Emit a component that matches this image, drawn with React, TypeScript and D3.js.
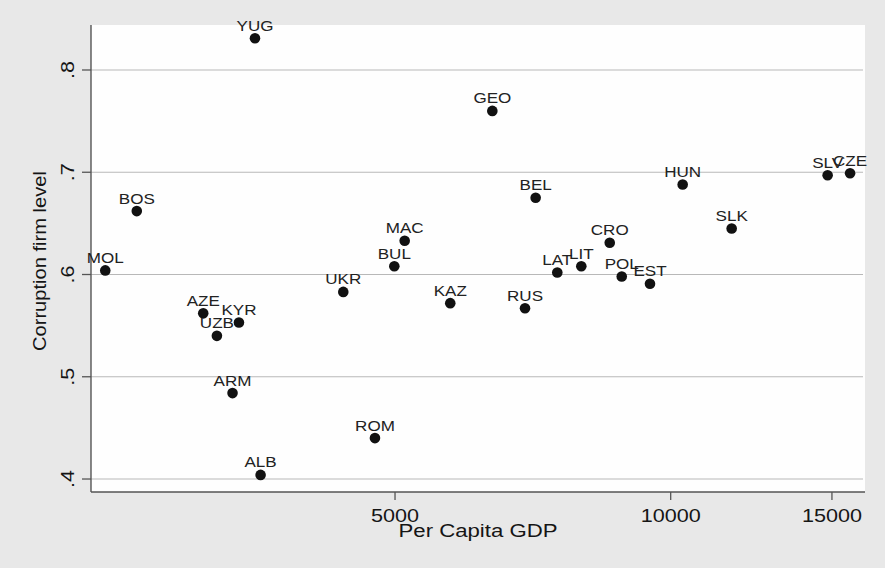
import React from "react";
import * as d3 from "d3";

const countries = ["YUG","GEO","BOS","BEL","HUN","SLV","CZE","SLK","MAC","CRO","MOL","BUL","LAT","LIT","POL","EST","UKR","KAZ","RUS","AZE","KYR","UZB","ARM","ROM","ALB"];
const gdp = [3516,6386,2612,7121,10306,14838,15700,11657,5123,8579,2413,4991,7519,7987,8842,9493,4390,5745,6933,3087,3377,3195,3323,4754,3566];
const corruption = [0.831,0.760,0.662,0.675,0.688,0.697,0.699,0.645,0.633,0.631,0.604,0.608,0.602,0.608,0.598,0.591,0.583,0.572,0.567,0.562,0.553,0.540,0.484,0.440,0.404];
const xTicks = [5000, 10000, 15000];
const yTicks = [0.4, 0.5, 0.6, 0.7, 0.8];
const yTickLabels = [".4", ".5", ".6", ".7", ".8"];

const W = 885, H = 568;
const left = 91, right = 865, top = 25, bottom = 492;
const FONT = "'Liberation Sans', Arial, Helvetica, sans-serif";

export default function App() {
  const x = d3.scaleLog().domain([2328, 16300]).range([left, right]);
  const y = d3.scaleLinear().domain([0.3873, 0.844]).range([bottom, top]);

  return (
    <svg width={W} height={H} style={{ position: "absolute", top: 0, left: 0 }} fontFamily={FONT}>
      <rect x={0} y={0} width={W} height={H} fill="#e8e8e8" />
      <rect x={left} y={top} width={right - left} height={bottom - top} fill="#fefefe" />
      {yTicks.map((t) => (
        <line key={"g" + t} x1={left} x2={right - 2} y1={y(t)} y2={y(t)} stroke="#b8b8b8" strokeWidth={1.2} />
      ))}
      <line x1={left} x2={left} y1={top} y2={bottom} stroke="#555" strokeWidth={1.4} />
      <line x1={left} x2={right} y1={bottom} y2={bottom} stroke="#555" strokeWidth={1.4} />
      {yTicks.map((t, i) => (
        <g key={"yt" + t}>
          <line x1={left - 9} x2={left} y1={y(t)} y2={y(t)} stroke="#555" strokeWidth={1.3} />
          <text
            transform={`translate(${left - 17},${y(t)}) rotate(-90) scale(1.2,1)`}
            textAnchor="middle"
            fontSize={18}
            fill="#151515"
          >
            {yTickLabels[i]}
          </text>
        </g>
      ))}
      {xTicks.map((t) => (
        <g key={"xt" + t}>
          <line x1={x(t)} x2={x(t)} y1={bottom} y2={bottom + 8} stroke="#555" strokeWidth={1.3} />
          <text
            transform={`translate(${x(t)},${bottom + 30}) scale(1.2,1)`}
            textAnchor="middle"
            fontSize={18}
            fill="#151515"
          >
            {t}
          </text>
        </g>
      ))}
      <text
        x={(left + right) / 2}
        y={537}
        textAnchor="middle"
        fontSize={17.5}
        fill="#151515"
        textLength={159}
        lengthAdjust="spacingAndGlyphs"
      >
        Per Capita GDP
      </text>
      <text
        transform={`translate(46,261) rotate(-90)`}
        textAnchor="middle"
        fontSize={18}
        fill="#151515"
        textLength={180}
        lengthAdjust="spacingAndGlyphs"
      >
        Corruption firm level
      </text>
      {countries.map((c, i) => (
        <g key={c}>
          <circle cx={x(gdp[i])} cy={y(corruption[i])} r={5.3} fill="#111" />
          <text
            transform={`translate(${x(gdp[i])},${y(corruption[i]) - 7.5}) scale(1.1,1)`}
            textAnchor="middle"
            fontSize={15.5}
            fill="#222"
          >
            {c}
          </text>
        </g>
      ))}
    </svg>
  );
}
